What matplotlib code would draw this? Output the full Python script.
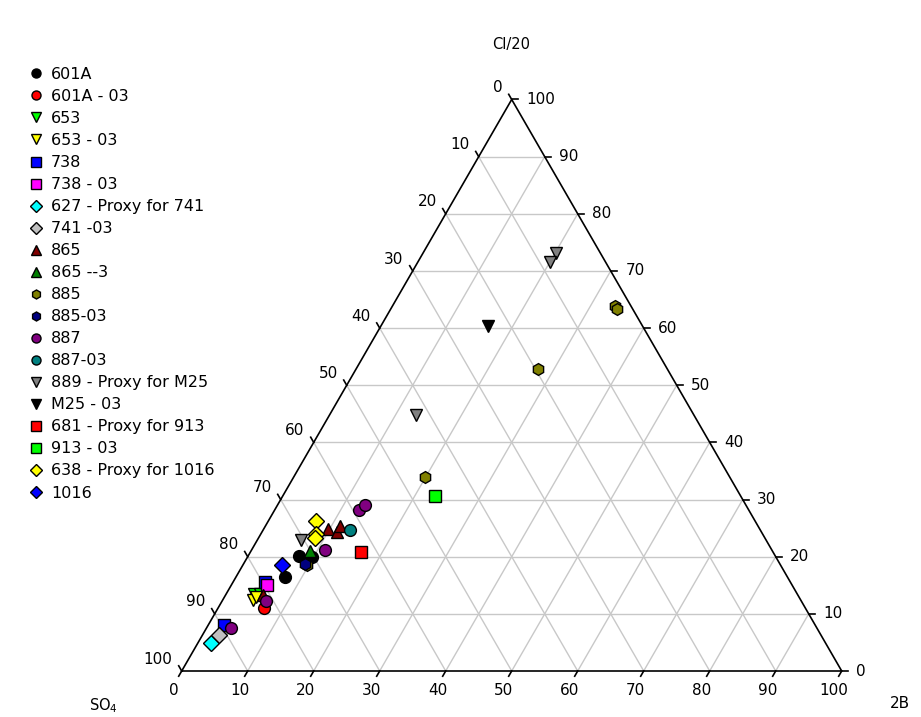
import numpy as np
import matplotlib
matplotlib.use("Agg")
import matplotlib.pyplot as plt
from matplotlib.lines import Line2D

plt.rcParams['font.family'] = ['DejaVu Sans']

# sample names, in plotting order
names = ["601A", "601A - 03", "653", "653 - 03", "738", "738 - 03",
         "627 - Proxy for 741", "741 -03", "865", "865 --3", "885", "885-03",
         "887", "887-03", "889 - Proxy for M25", "M25 - 03",
         "681 - Proxy for 913", "913 - 03", "638 - Proxy for 1016", "1016"]

markers = ["o", "o", "v", "v", "s", "s", "D", "D", "^", "^", "h", "h",
           "o", "o", "v", "v", "s", "s", "D", "D"]

colors = ["#000000", "#ff0000", "#00ff00", "#ffff00", "#0000ff", "#ff00ff",
          "#00ffff", "#c0c0c0", "#800000", "#008000", "#808000", "#000080",
          "#800080", "#008080", "#808080", "#000000", "#ff0000", "#00ff00",
          "#ffff00", "#0000ff"]

# percent Cl/20 for each sample
cl = [
    [20.2, 20.0, 16.4],
    [11.1],
    [13.5, 13.5],
    [12.5, 13.0],
    [15.5, 8.0],
    [15.0],
    [4.9],
    [6.3],
    [24.8, 24.4, 25.3, 13.3],
    [21.0],
    [18.5, 33.9, 52.8, 63.9, 63.3],
    [18.8],
    [7.6, 12.3, 21.1, 28.2, 29.0],
    [24.7],
    [22.9, 44.8, 73.2, 71.6],
    [60.4],
    [20.8],
    [30.6],
    [26.2, 23.9, 23.2],
    [18.5],
]

# percent 2B for each sample
b2 = [
    [7.6, 9.7, 7.4],
    [6.9],
    [4.2, 5.1],
    [4.5, 4.8],
    [4.9, 2.4],
    [5.4],
    [2.0],
    [2.5],
    [9.8, 11.3, 11.4, 5.7],
    [8.9],
    [9.7, 19.9, 27.6, 33.7, 34.3],
    [9.3],
    [3.7, 6.6, 11.1, 12.8, 13.2],
    [13.1],
    [6.6, 13.1, 20.1, 20.0],
    [16.2],
    [16.8],
    [23.1],
    [7.2, 8.4, 8.6],
    [6.0],
]

ticks = np.arange(0, 101, 10)
H = np.sqrt(3) / 2
FS = 11


def to_xy(b, c):
    b = np.asarray(b, float)
    c = np.asarray(c, float)
    return (b + c / 2) / 100, c / 100 * H


fig = plt.figure(figsize=(9.21, 7.17), dpi=100)
ax = fig.add_axes([181.7 / 921, 46 / 717, 660 / 921, 571.5 / 717])
ax.set_xlim(0, 1)
ax.set_ylim(0, H)
ax.axis("off")

# grid
for t in ticks[1:-1]:
    # constant Cl
    x, y = to_xy([0, 100 - t], [t, t])
    ax.plot(x, y, color="#c8c8c8", lw=1, zorder=1)
    # constant 2B
    x, y = to_xy([t, t], [0, 100 - t])
    ax.plot(x, y, color="#c8c8c8", lw=1, zorder=1)
    # constant SO4
    x, y = to_xy([100 - t, 0], [0, 100 - t])
    ax.plot(x, y, color="#c8c8c8", lw=1, zorder=1)

# frame
x, y = to_xy([0, 100, 0, 0], [0, 0, 100, 0])
ax.plot(x, y, color="black", lw=1.2, zorder=2, clip_on=False)

tl = 6 / 660
c60, s60 = 0.5, H
for t in ticks:
    # bottom axis, 2B
    x, y = to_xy(t, 0)
    ax.plot([x, x - tl * c60], [y, y - tl * s60], color="black", lw=1.2, clip_on=False)
    ax.annotate(f"{t}", (x, y), xytext=(-5.8, -13.7), textcoords="offset points",
                ha="center", va="center", fontsize=FS)
    # right axis, Cl/20
    x, y = to_xy(100 - t, t)
    ax.plot([x, x + tl], [y, y], color="black", lw=1.2, clip_on=False)
    ax.annotate(f"{t}", (x, y), xytext=(10.5, 0), textcoords="offset points",
                ha="left", va="center", fontsize=FS)
    # left axis, SO4
    x, y = to_xy(0, 100 - t)
    ax.plot([x, x - tl * c60], [y, y + tl * s60], color="black", lw=1.2, clip_on=False)
    ax.annotate(f"{t}", (x, y), xytext=(-6.5, 8.6), textcoords="offset points",
                ha="right", va="center", fontsize=FS)

handles = []
for name, m, col, c, b in zip(names, markers, colors, cl, b2):
    x, y = to_xy(b, c)
    ax.plot(x, y, linestyle="none", marker=m, ms=8.5, mfc=col, mec="black",
            mew=1, zorder=3, clip_on=False)
    handles.append(Line2D([], [], linestyle="none", marker=m, ms=6.5, mfc=col,
                          mec="black", mew=1))

fig.legend(handles, names, loc="upper left", bbox_to_anchor=(28 / 921, 1 - 67 / 717),
           frameon=False, fontsize=11.5, handlelength=1, handletextpad=0.44,
           labelspacing=0.44, borderaxespad=0, borderpad=0)

fig.text(511 / 921, 1 - 44 / 717, "Cl/20", ha="center", va="center", fontsize=10.5)
fig.text(103 / 921, 1 - 706 / 717, "SO$_4$", ha="center", va="center", fontsize=10.5)
fig.text(900 / 921, 1 - 703 / 717, "2B", ha="center", va="center", fontsize=11)

fig.savefig("out.png", dpi=100)
